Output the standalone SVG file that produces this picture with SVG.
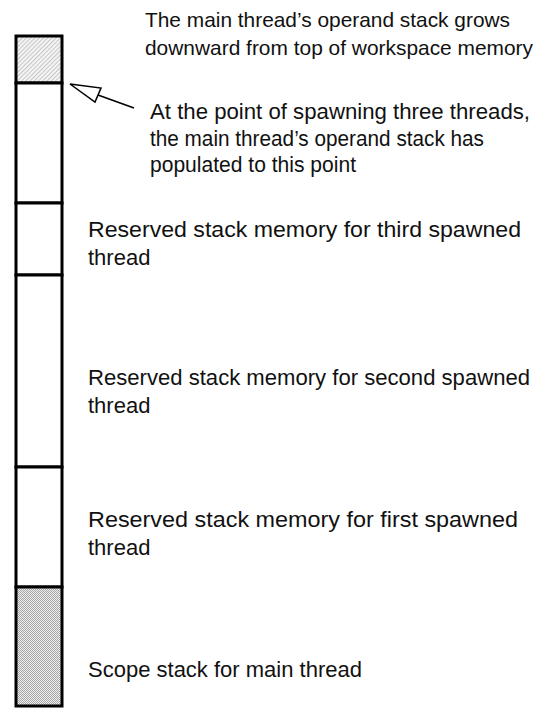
<svg xmlns="http://www.w3.org/2000/svg" width="542" height="709" viewBox="0 0 542 709">
<style>
.t{font-family:"Liberation Sans",Arial,sans-serif;font-size:22px;fill:#111}
.s{font-size:21px}
.cell{fill:#fff;stroke:#000;stroke-width:3}
.edge{fill:none;stroke:#000;stroke-width:1.5}
</style>
<defs>
<pattern id="hatch" width="3" height="3" patternUnits="userSpaceOnUse" patternTransform="rotate(45)">
<rect width="3" height="3" fill="#f4f4f4"/>
<line x1="0" y1="0" x2="0" y2="3" stroke="#9a9a9a" stroke-width="1"/>
</pattern>
<pattern id="dots" width="2" height="2" patternUnits="userSpaceOnUse">
<rect width="2" height="2" fill="#eeeeee"/>
<rect width="1" height="1" fill="#a6a6a6"/>
<rect x="1" y="1" width="1" height="1" fill="#a6a6a6"/>
</pattern>
</defs>
<g id="main-operand-stack">
<rect class="cell" x="16" y="36" width="46" height="47" style="fill:url(#hatch)"/>
</g>
<g id="free-region">
<rect class="cell" x="16" y="83" width="46" height="120"/>
</g>
<g id="third-thread">
<rect class="cell" x="16" y="203" width="46" height="72"/>
</g>
<g id="second-thread">
<rect class="cell" x="16" y="275" width="46" height="192"/>
</g>
<g id="first-thread">
<rect class="cell" x="16" y="467" width="46" height="120"/>
</g>
<g id="scope-stack">
<rect class="cell" x="16" y="587" width="46" height="119" style="fill:url(#dots)"/>
</g>
<g id="labels">
<text class="t s" x="145" y="27" textLength="365" lengthAdjust="spacingAndGlyphs">The main thread’s operand stack grows</text>
<text class="t s" x="145" y="55" textLength="388" lengthAdjust="spacingAndGlyphs">downward from top of workspace memory</text>
<text class="t" x="150" y="119" textLength="380" lengthAdjust="spacingAndGlyphs">At the point of spawning three threads,</text>
<text class="t" x="150" y="146" textLength="334" lengthAdjust="spacingAndGlyphs">the main thread’s operand stack has</text>
<text class="t" x="150" y="172" textLength="206" lengthAdjust="spacingAndGlyphs">populated to this point</text>
<text class="t" x="88" y="237" textLength="433" lengthAdjust="spacingAndGlyphs">Reserved stack memory for third spawned</text>
<text class="t" x="88" y="265">thread</text>
<text class="t" x="88" y="385" textLength="442" lengthAdjust="spacingAndGlyphs">Reserved stack memory for second spawned</text>
<text class="t" x="88" y="413">thread</text>
<text class="t" x="88" y="527" textLength="430" lengthAdjust="spacingAndGlyphs">Reserved stack memory for first spawned</text>
<text class="t" x="88" y="555">thread</text>
<text class="t" x="88" y="677" textLength="274" lengthAdjust="spacingAndGlyphs">Scope stack for main thread</text>
</g>
<g id="connectors">
<polygon class="edge" points="70,84 101,88 95,102"/>
<line class="edge" x1="98" y1="95" x2="134" y2="108"/>
</g>
</svg>
